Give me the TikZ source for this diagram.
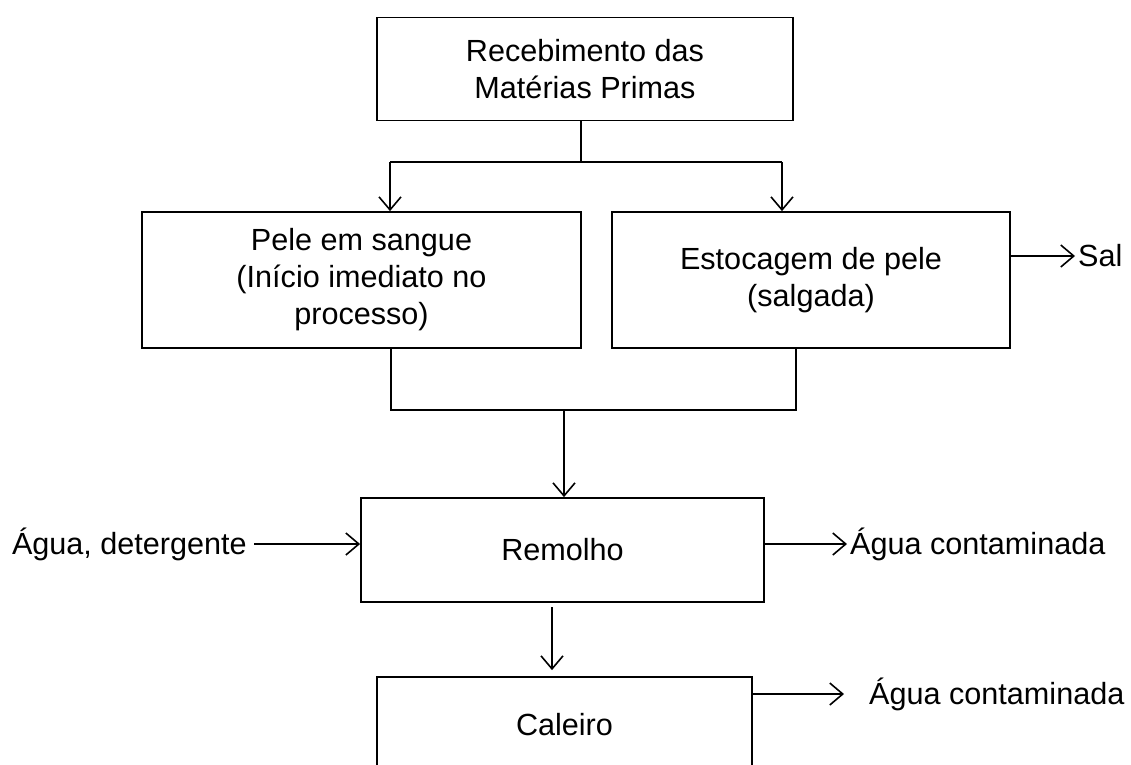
\documentclass[tikz,border=0pt]{standalone}
\usepackage{fontspec}
\setmainfont{Liberation Sans}
\usetikzlibrary{arrows.meta}
\tikzset{
    etapa/.style={draw, line width=1.8pt, align=center, inner sep=0pt,
        font=\fontsize{30.6}{37}\selectfont},
    rotulo/.style={inner sep=3pt, font=\fontsize{30.6}{37}\selectfont},
    fluxo/.style={line width=1.5pt},
    saida/.style={line width=2.4pt},
}
\begin{document}
\begin{tikzpicture}[x=1pt, y=-1pt,
    >={Straight Barb[length=13pt,width=22pt,line width=1.6pt]}]
    \clip (0,0) rectangle (1131,764);
    \fill[white] (0,0) rectangle (1131,764);
    % etapas
    \node[etapa, minimum width=416pt, minimum height=103pt] (receb) at (585,69) {Recebimento das\\Matérias Primas};
    \node[etapa, minimum width=439pt, minimum height=136pt] (pele) at (361.5,280) {Pele em sangue\\(Início imediato no\\processo)};
    \node[etapa, minimum width=398pt, minimum height=136pt] (estoc) at (811,280) {Estocagem de pele\\(salgada)};
    \node[etapa, minimum width=403pt, minimum height=104pt] (remolho) at (562.5,550) {Remolho};
    \node[etapa, minimum width=375pt, minimum height=96pt] (caleiro) at (564.5,725) {Caleiro};
    % entradas e saidas
    \node[rotulo, anchor=west] (sal) at (1075,256) {Sal};
    \node[rotulo, anchor=east] (aguain) at (250,544) {Água, detergente};
    \node[rotulo, anchor=west] (aguaout1) at (847,544) {Água contaminada};
    \node[rotulo, anchor=west] (aguaout2) at (866,694) {Água contaminada};
    % bifurcacao
    \coordinate (bif) at (581,162);
    \coordinate (bifE) at (390,162);
    \coordinate (bifD) at (782,162);
    \draw[fluxo] (receb.south -| bif) -- (bif);
    \draw[fluxo] (bifE) -- (bifD);
    \draw[fluxo,->] (bifE) -- (bifE |- pele.north);
    \draw[fluxo,->] (bifD) -- (bifD |- estoc.north);
    \draw[saida,->] (estoc.east |- sal.west) -- (sal.west);
    % juncao
    \coordinate (juntE) at (391,410);
    \coordinate (juntD) at (796,410);
    \coordinate (junt) at (564,410);
    \draw[fluxo] (pele.south -| juntE) -- (juntE) -- (juntD) -- (estoc.south -| juntD);
    \draw[fluxo,->] (junt) -- (junt |- remolho.north);
    \draw[saida,->] ([xshift=4pt]aguain.east) -- (remolho.west |- aguain.east);
    \draw[saida,->] (remolho.east |- aguaout1.west) -- (aguaout1.west);
    % remolho para caleiro
    \coordinate (desce) at (552,607);
    \draw[fluxo,->, shorten >=6pt] (desce) -- (desce |- caleiro.north);
    \draw[saida,->, shorten >=22pt] (caleiro.east |- aguaout2.west) -- (aguaout2.west);
\end{tikzpicture}
\end{document}
